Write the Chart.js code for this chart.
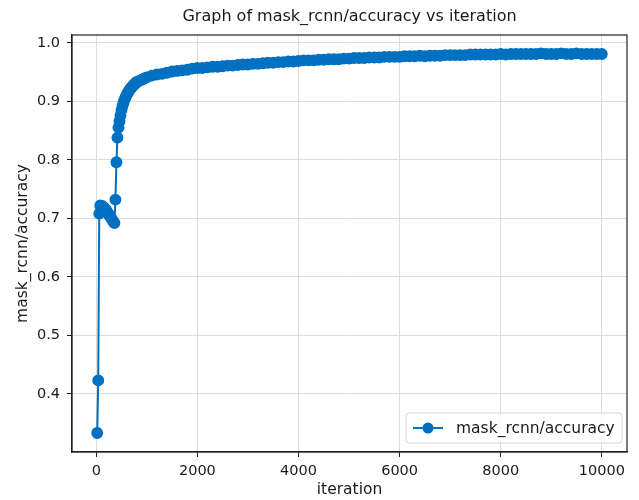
<!DOCTYPE html>
<html>
<head>
<meta charset="utf-8">
<script src="https://cdn.jsdelivr.net/npm/chart.js@4.4.0/dist/chart.umd.min.js"></script>
<style>
  html, body { margin: 0; padding: 0; background: #fff; }
  #wrap { width: 639px; height: 500px; }
</style>
</head>
<body>
<div id="wrap"><canvas id="acc-chart" width="639" height="500"></canvas></div>
<script>
"use strict";

// ── data ────────────────────────────────────────────────
const iterations = [
  19, 39, 59, 79, 99, 119, 139, 159, 179, 199, 219, 239, 259, 279, 299, 319, 339, 359,
  379, 399, 419, 439, 459, 479, 499, 519, 539, 559, 579, 599,
  619, 639, 659, 679, 699, 719, 739, 759, 779, 799,
  849, 899, 949, 999,
  1099, 1199, 1299, 1399, 1499, 1599, 1699, 1799, 1899, 1999,
  2099, 2199, 2299, 2399, 2499, 2599, 2699, 2799, 2899, 2999,
  3099, 3199, 3299, 3399, 3499, 3599, 3699, 3799, 3899, 3999,
  4099, 4199, 4299, 4399, 4499, 4599, 4699, 4799, 4899, 4999,
  5099, 5199, 5299, 5399, 5499, 5599, 5699, 5799, 5899, 5999,
  6099, 6199, 6299, 6399, 6499, 6599, 6699, 6799, 6899, 6999,
  7099, 7199, 7299, 7399, 7499, 7599, 7699, 7799, 7899, 7999,
  8099, 8199, 8299, 8399, 8499, 8599, 8699, 8799, 8899, 8999,
  9099, 9199, 9299, 9399, 9499, 9599, 9699, 9799, 9899, 9999,
];

const accuracy = [
  0.333, 0.423, 0.708, 0.722, 0.720, 0.721, 0.716, 0.718, 0.713, 0.714, 0.710, 0.708, 0.705, 0.703, 0.700, 0.697, 0.694, 0.692,
  0.732, 0.796, 0.838, 0.855, 0.866, 0.876, 0.885, 0.892, 0.898, 0.903, 0.907, 0.911,
  0.914, 0.917, 0.920, 0.922, 0.924, 0.926, 0.928, 0.930, 0.931, 0.933,
  0.935, 0.937, 0.939, 0.941,
  0.944, 0.946, 0.947, 0.949, 0.951, 0.952, 0.953, 0.954, 0.956, 0.957,
  0.957, 0.958, 0.959, 0.959, 0.960, 0.961, 0.961, 0.962, 0.963, 0.963,
  0.964, 0.964, 0.965, 0.966, 0.966, 0.967, 0.967, 0.968, 0.968, 0.969,
  0.970, 0.970, 0.970, 0.971, 0.971, 0.972, 0.972, 0.972, 0.973, 0.973,
  0.974, 0.974, 0.974, 0.975, 0.975, 0.975, 0.976, 0.976, 0.976, 0.976,
  0.977, 0.977, 0.977, 0.978, 0.977, 0.978, 0.978, 0.978, 0.979, 0.979,
  0.979, 0.979, 0.979, 0.980, 0.980, 0.980, 0.980, 0.980, 0.980, 0.981,
  0.980, 0.981, 0.981, 0.981, 0.981, 0.981, 0.981, 0.982, 0.981, 0.981,
  0.981, 0.982, 0.981, 0.981, 0.982, 0.981, 0.981, 0.981, 0.981, 0.981,
];

const xTicks = [0, 2000, 4000, 6000, 8000, 10000];
const yTicks = [0.4, 0.5, 0.6, 0.7, 0.8, 0.9, 1.0];

const seriesLabel = "mask_rcnn/accuracy";
const chartTitle = "Graph of mask_rcnn/accuracy vs iteration";
const xTitle = "iteration";
const yTitle = "mask_rcnn/accuracy";

// ── styles ──────────────────────────────────────────────
const BLUE = "#0070c0";
const TEXT = "#1a1a1a";
const FONT = "'DejaVu Sans', sans-serif";

// title + frame + legend drawn on top, matplotlib style
const decorPlugin = {
  id: "decor",
  afterDraw(chart) {
    const { ctx, chartArea: a } = chart;
    ctx.save();

    // frame
    ctx.strokeStyle = "#222";
    ctx.lineWidth = 1.2;
    ctx.strokeRect(a.left, a.top, a.right - a.left, a.bottom - a.top);

    // title, centred on the plot area
    ctx.fillStyle = TEXT;
    ctx.font = "16px " + FONT;
    ctx.textAlign = "center";
    ctx.textBaseline = "middle";
    ctx.fillText(chartTitle, (a.left + a.right) / 2, 17);

    // legend box (lower right)
    const bx = 406, by = 413, bw = 216, bh = 30, r = 3;
    ctx.beginPath();
    ctx.moveTo(bx + r, by);
    ctx.arcTo(bx + bw, by, bx + bw, by + bh, r);
    ctx.arcTo(bx + bw, by + bh, bx, by + bh, r);
    ctx.arcTo(bx, by + bh, bx, by, r);
    ctx.arcTo(bx, by, bx + bw, by, r);
    ctx.closePath();
    ctx.fillStyle = "rgba(255,255,255,0.8)";
    ctx.fill();
    ctx.strokeStyle = "#d6d6d6";
    ctx.lineWidth = 1;
    ctx.stroke();

    const ly = by + bh / 2;
    ctx.strokeStyle = BLUE;
    ctx.lineWidth = 2;
    ctx.beginPath();
    ctx.moveTo(413, ly);
    ctx.lineTo(443, ly);
    ctx.stroke();
    ctx.fillStyle = BLUE;
    ctx.beginPath();
    ctx.arc(428, ly, 5.5, 0, Math.PI * 2);
    ctx.fill();

    ctx.fillStyle = TEXT;
    ctx.font = "15.5px " + FONT;
    ctx.textAlign = "left";
    ctx.fillText(seriesLabel, 456, ly + 1);

    ctx.restore();
  },
};

const points = iterations.map((it, i) => ({ x: it, y: accuracy[i] }));

new Chart(document.getElementById("acc-chart"), {
  type: "scatter",
  data: {
    datasets: [{
      label: seriesLabel,
      data: points,
      showLine: true,
      borderColor: BLUE,
      borderWidth: 2,
      backgroundColor: BLUE,
      pointBackgroundColor: BLUE,
      pointBorderColor: BLUE,
      pointBorderWidth: 1.5,
      pointRadius: 5.2,
      tension: 0,
    }],
  },
  options: {
    responsive: false,
    animation: false,
    events: [],
    layout: { padding: { top: 35, right: 12, left: 0, bottom: 0 } },
    plugins: {
      legend: { display: false },
      title: { display: false },
      tooltip: { enabled: false },
    },
    scales: {
      x: {
        type: "linear",
        min: -480,
        max: 10498,
        afterBuildTicks(scale) { scale.ticks = xTicks.map(v => ({ value: v })); },
        afterFit(scale) { scale.height = 48; },
        grid: { color: "#dcdcdc", lineWidth: 1, tickLength: 5, tickColor: "#222" },
        border: { display: true, color: "#222", width: 1.2 },
        ticks: {
          color: TEXT,
          font: { family: FONT, size: 14.5 },
          padding: 6,
          maxRotation: 0,
          callback: v => String(v),
        },
        title: {
          display: true,
          text: xTitle,
          color: TEXT,
          font: { family: FONT, size: 15.5 },
          padding: { top: 0, bottom: 1 },
        },
      },
      y: {
        type: "linear",
        min: 0.3006,
        max: 1.0134,
        afterBuildTicks(scale) { scale.ticks = yTicks.map(v => ({ value: v })); },
        afterFit(scale) { scale.width = 72; },
        grid: { color: "#dcdcdc", lineWidth: 1, tickLength: 5, tickColor: "#222" },
        border: { display: true, color: "#222", width: 1.2 },
        ticks: {
          color: TEXT,
          font: { family: FONT, size: 14.5 },
          padding: 7,
          callback: v => Number(v).toFixed(1),
        },
        title: {
          display: true,
          text: yTitle,
          color: TEXT,
          font: { family: FONT, size: 15.5 },
          padding: { top: 14, bottom: 0 },
        },
      },
    },
  },
  plugins: [decorPlugin],
});
</script>
</body>
</html>
